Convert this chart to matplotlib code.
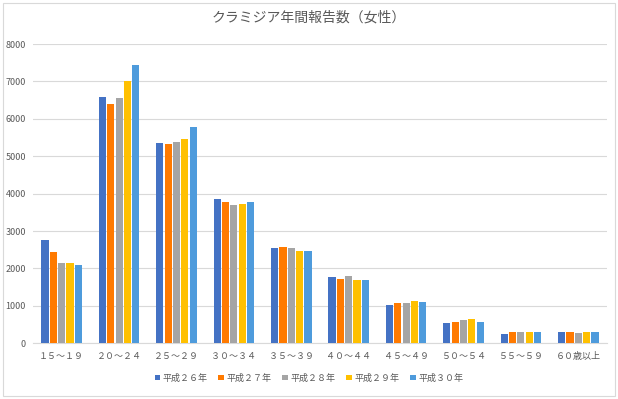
import numpy as np
import matplotlib.pyplot as plt
from matplotlib.patches import Rectangle

plt.rcParams['font.family'] = ['Noto Sans CJK JP', 'DejaVu Sans']

categories = ['１５～１９', '２０～２４', '２５～２９', '３０～３４', '３５～３９',
              '４０～４４', '４５～４９', '５０～５４', '５５～５９', '６０歳以上']
years = ['平成２６年', '平成２７年', '平成２８年', '平成２９年', '平成３０年']

h26 = [2760, 6580, 5350, 3860, 2550, 1760, 1030, 550, 250, 300]
h27 = [2440, 6400, 5330, 3780, 2580, 1730, 1080, 570, 300, 300]
h28 = [2150, 6560, 5380, 3700, 2550, 1810, 1080, 630, 300, 280]
h29 = [2150, 7010, 5460, 3720, 2470, 1700, 1140, 650, 300, 300]
h30 = [2090, 7440, 5780, 3780, 2470, 1700, 1110, 570, 300, 300]
series = [h26, h27, h28, h29, h30]

colors = ['#4472C4', '#FF7A00', '#A5A5A5', '#FFC000', '#4E9BDC']
text_col = '#595959'

fig = plt.figure(figsize=(6.18, 3.99), dpi=100)
ax = fig.add_axes([33 / 618, 55.7 / 399, 574 / 618, 299.3 / 399])

x = np.arange(len(categories))
slot = 0.146
for i, (vals, col) in enumerate(zip(series, colors)):
    ax.bar(x + (i - 2) * slot, vals, width=0.125, color=col, label=years[i], zorder=3)

ax.set_xlim(-0.5, len(categories) - 0.5)
ax.set_ylim(0, 8000)
ax.set_yticks(range(0, 8001, 1000))
ax.set_xticks(x)
ax.set_xticklabels(categories)
ax.grid(axis='y', color='#D9D9D9', linewidth=0.8, zorder=0)
for s in ['top', 'right', 'left']:
    ax.spines[s].set_visible(False)
ax.spines['bottom'].set_color('#D9D9D9')
ax.tick_params(axis='both', length=0, colors=text_col, labelsize=6.5)
ax.tick_params(axis='x', pad=6)
ax.tick_params(axis='y', pad=5)

fig.text(0.5, 18 / 399 * -1 + 1, 'クラミジア年間報告数（女性）', ha='center', va='center',
         fontsize=10, color=text_col)

leg = fig.legend(loc='center', bbox_to_anchor=(0.5, 1 - 378 / 399), ncol=5, frameon=False,
                 fontsize=6.5, handlelength=0.6, handleheight=0.6, handletextpad=0.3,
                 columnspacing=1.2)
for t in leg.get_texts():
    t.set_color(text_col)

fig.patches.append(Rectangle((3 / 618, 3 / 399), 612 / 618, 393 / 399, transform=fig.transFigure,
                             fill=False, edgecolor='#D9D9D9', linewidth=0.8))

fig.savefig('out.png', dpi=100)
